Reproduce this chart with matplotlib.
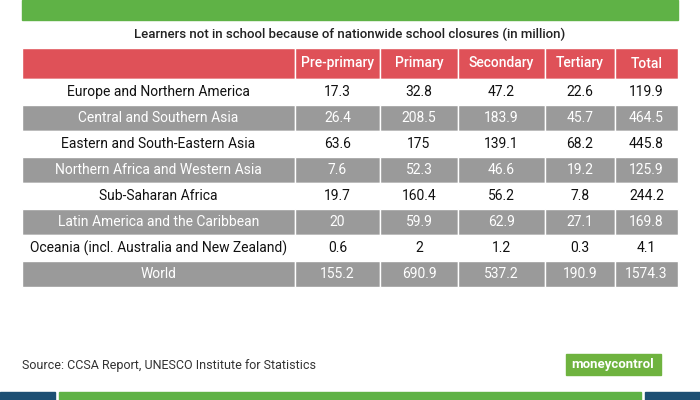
import matplotlib
matplotlib.use("Agg")
import matplotlib.pyplot as plt
from matplotlib.patches import Rectangle

title = "Learners not in school because of nationwide school closures (in million)"
columns = ["", "Pre-primary", "Primary", "Secondary", "Tertiary", "Total"]
regions = ["Europe and Northern America", "Central and Southern Asia", "Eastern and South-Eastern Asia",
           "Northern Africa and Western Asia", "Sub-Saharan Africa", "Latin America and the Caribbean",
           "Oceania (incl. Australia and New Zealand)", "World"]
pre_primary = ["17.3", "26.4", "63.6", "7.6", "19.7", "20", "0.6", "155.2"]
primary = ["32.8", "208.5", "175", "52.3", "160.4", "59.9", "2", "690.9"]
secondary = ["47.2", "183.9", "139.1", "46.6", "56.2", "62.9", "1.2", "537.2"]
tertiary = ["22.6", "45.7", "68.2", "19.2", "7.8", "27.1", "0.3", "190.9"]
total = ["119.9", "464.5", "445.8", "125.9", "244.2", "169.8", "4.1", "1574.3"]
source = "Source: CCSA Report, UNESCO Institute for Statistics"

W, H = 700, 400
fig = plt.figure(figsize=(7, 4), dpi=100)
ax = fig.add_axes([0, 0, 1, 1])
ax.set_xlim(0, W); ax.set_ylim(H, 0); ax.axis("off")
FONT = "Roboto"
GREEN = "#5fb246"; RED = "#df5158"; GRAY = "#9a9a9a"; NAVY = "#1d4f73"

ax.add_patch(Rectangle((22, 0), 656, 20, color=GREEN))
ax.text(350, 34, title, ha="center", va="center", fontsize=9.5, family=FONT, color="#222",
        fontweight="medium")

xs = [22, 295, 380, 458, 545, 615, 678]
y0, hh, rh = 48, 31, 26
for i, c in enumerate(columns):
    ax.add_patch(Rectangle((xs[i], y0), xs[i+1]-xs[i], hh, facecolor=RED, edgecolor="white", lw=1))
    ax.text((xs[i]+xs[i+1])/2, y0+hh/2, c, ha="center", va="center", fontsize=10, family=FONT,
            color="white", fontweight="medium")
cols = [regions, pre_primary, primary, secondary, tertiary, total]
for r in range(len(regions)):
    y = y0 + hh + r*rh
    gray = r % 2 == 1
    for i in range(6):
        ax.add_patch(Rectangle((xs[i], y), xs[i+1]-xs[i], rh, facecolor=GRAY if gray else "white",
                               edgecolor="white", lw=1))
        ax.text((xs[i]+xs[i+1])/2, y+rh/2, cols[i][r], ha="center", va="center", fontsize=10,
                family=FONT, color="white" if gray else "#111")

ax.text(22, 365, source, ha="left", va="center", fontsize=9, family=FONT, color="#333")
ax.add_patch(Rectangle((566, 354), 95, 21, color="#6fb33f"))
ax.text(613, 364.5, "moneycontrol", ha="center", va="center", fontsize=9.5, family=FONT,
        fontweight="bold", color="white")

ax.add_patch(Rectangle((0, 392), 55, 8, color=NAVY))
ax.add_patch(Rectangle((59, 392), 582, 8, color=GREEN))
ax.add_patch(Rectangle((645, 392), 55, 8, color=NAVY))
fig.savefig("out.png", dpi=100)
